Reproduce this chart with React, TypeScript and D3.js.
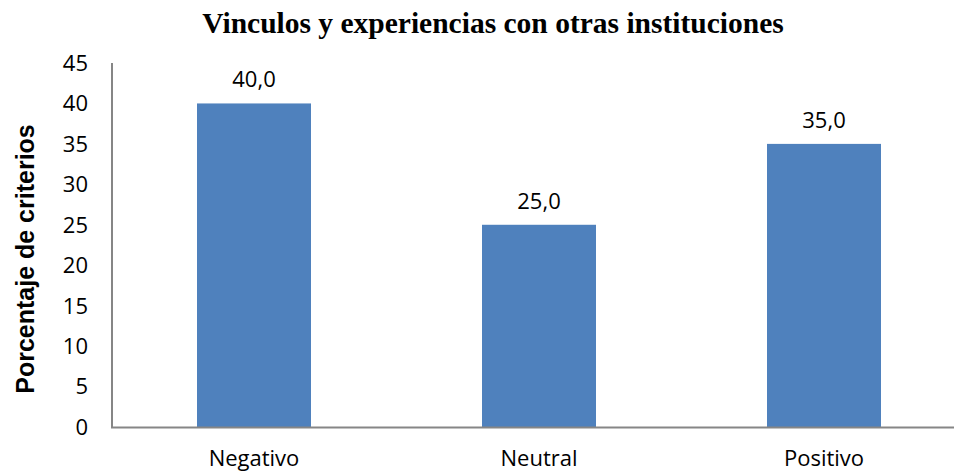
import React from "react";
import * as d3 from "d3";

const categories = ["Negativo", "Neutral", "Positivo"];
const values = [40.0, 25.0, 35.0];
const yTicks = [0, 5, 10, 15, 20, 25, 30, 35, 40, 45];
const title = "Vinculos y experiencias con otras instituciones";
const yLabel = "Porcentaje de criterios";

export default function App() {
  const W = 954, H = 474;
  const x = d3.scaleBand<string>().domain(categories).range([111.5, 966.5]).paddingInner(0.6).paddingOuter(0.3);
  const y = d3.scaleLinear().domain([0, 45]).range([427, 63]);
  const fmt = (v: number) => v.toFixed(1).replace(".", ",");
  const tickFont = "'Open Sans', 'Noto Sans', sans-serif";
  return (
    <svg width={W} height={H} style={{ position: "absolute", left: 0, top: 0, background: "#fff" }}>
      <text x={493} y={33} textAnchor="middle" fontFamily="'Liberation Serif', 'Times New Roman', serif" fontWeight="bold" fontSize={29.5} fill="#000">{title}</text>
      <text transform={`translate(34,259) rotate(-90)`} textAnchor="middle" fontFamily="'Liberation Sans', Arial, sans-serif" fontWeight="bold" fontSize={25} fill="#000">{yLabel}</text>
      {yTicks.map(t => (
        <text key={t} x={88} y={y(t)} dy="0.36em" textAnchor="end" fontFamily={tickFont} fontSize={22} fill="#000">{t}</text>
      ))}
      {categories.map((c, i) => (
        <g key={c}>
          <rect x={x(c)} y={y(values[i])} width={x.bandwidth()} height={y(0) - y(values[i])} fill="#4F81BD" />
          <text x={(x(c) as number) + x.bandwidth() / 2} y={y(values[i]) - 16} textAnchor="middle" fontFamily={tickFont} fontSize={22} fill="#000">{fmt(values[i])}</text>
          <text x={(x(c) as number) + x.bandwidth() / 2} y={466} textAnchor="middle" fontFamily={tickFont} fontSize={22} fill="#000">{c}</text>
        </g>
      ))}
      <line x1={112} x2={112} y1={63} y2={428} stroke="#868686" strokeWidth={2} />
      <line x1={111} x2={954} y1={427.5} y2={427.5} stroke="#868686" strokeWidth={2} />
    </svg>
  );
}
